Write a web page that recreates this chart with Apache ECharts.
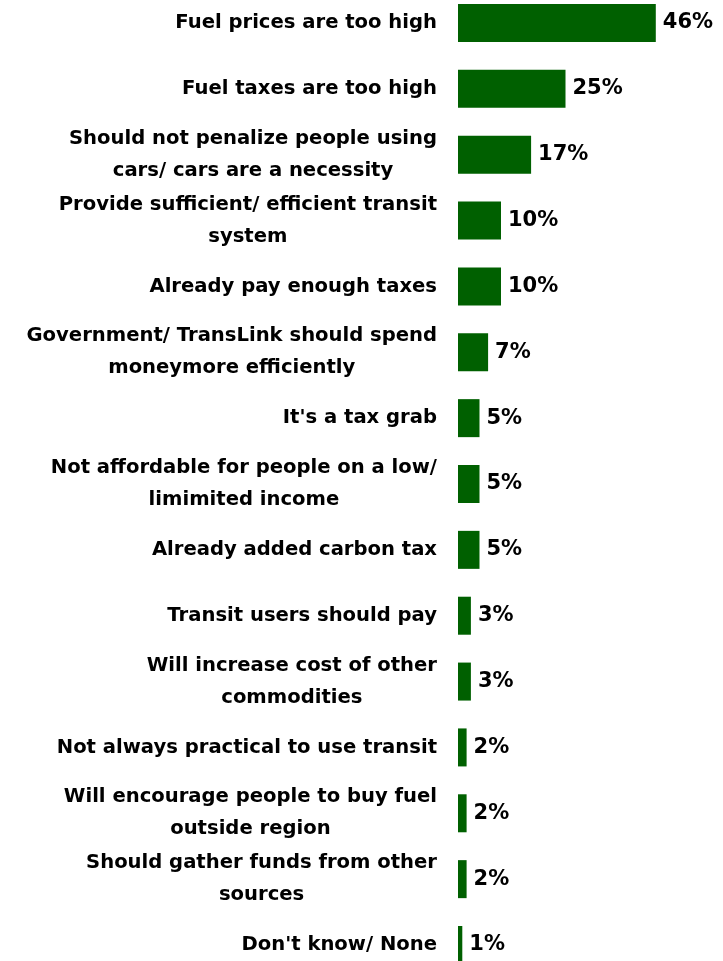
<!DOCTYPE html>
<html>
<head>
<meta charset="utf-8">
<style>
  html, body { margin: 0; padding: 0; background: #ffffff; }
  #chart { width: 723px; height: 961px; }
</style>
<script src="https://cdn.jsdelivr.net/npm/echarts@6/dist/echarts.min.js"></script>
</head>
<body>
<div id="chart"></div>
<script>
// Reasons given (share of respondents, %)
const categories = [
  "Fuel prices are too high",
  "Fuel taxes are too high",
  "Should not penalize people using\ncars/ cars are a necessity",
  "Provide sufficient/ efficient transit\nsystem",
  "Already pay enough taxes",
  "Government/ TransLink should spend\nmoneymore efficiently",
  "It's a tax grab",
  "Not affordable for people on a low/\nlimimited income",
  "Already added carbon tax",
  "Transit users should pay",
  "Will increase cost of other\ncommodities",
  "Not always practical to use transit",
  "Will encourage people to buy fuel\noutside region",
  "Should gather funds from other\nsources",
  "Don't know/ None"
];
const shares = [46, 25, 17, 10, 10, 7, 5, 5, 5, 3, 3, 2, 2, 2, 1];

const FONT = "'DejaVu Sans', 'Liberation Sans', Arial, sans-serif";
const BAR_COLOR = "#006000";

const chart = echarts.init(document.getElementById('chart'), null, { renderer: 'canvas' });

// Category centres sit on the grid edges (boundaryGap off), so the first and
// last bars extend past the grid; clipping is disabled for that reason.
chart.setOption({
  backgroundColor: '#ffffff',
  animation: false,
  grid: { left: 458, top: 23, width: 215, height: 922 },
  xAxis: {
    type: 'value',
    min: 0,
    max: 50,
    show: false
  },
  yAxis: {
    type: 'category',
    inverse: true,
    boundaryGap: false,
    data: categories,
    axisLine: { show: false },
    axisTick: { show: false },
    splitLine: { show: false },
    axisLabel: {
      margin: 21,
      align: 'right',
      interval: 0,
      formatter: function (value) {
        return value.split('\n').map(function (line) { return '{c|' + line + '}'; }).join('\n');
      },
      rich: {
        c: {
          align: 'center',
          fontFamily: FONT,
          fontWeight: 'bold',
          fontSize: 19.6,
          lineHeight: 32,
          color: '#000000'
        }
      }
    }
  },
  series: [{
    type: 'bar',
    data: shares,
    barWidth: 38,
    clip: false,
    itemStyle: { color: BAR_COLOR },
    label: {
      show: true,
      position: 'right',
      distance: 7,
      formatter: '{c}%',
      fontFamily: FONT,
      fontWeight: 'bold',
      fontSize: 21,
      color: '#000000'
    }
  }]
});
</script>
</body>
</html>
